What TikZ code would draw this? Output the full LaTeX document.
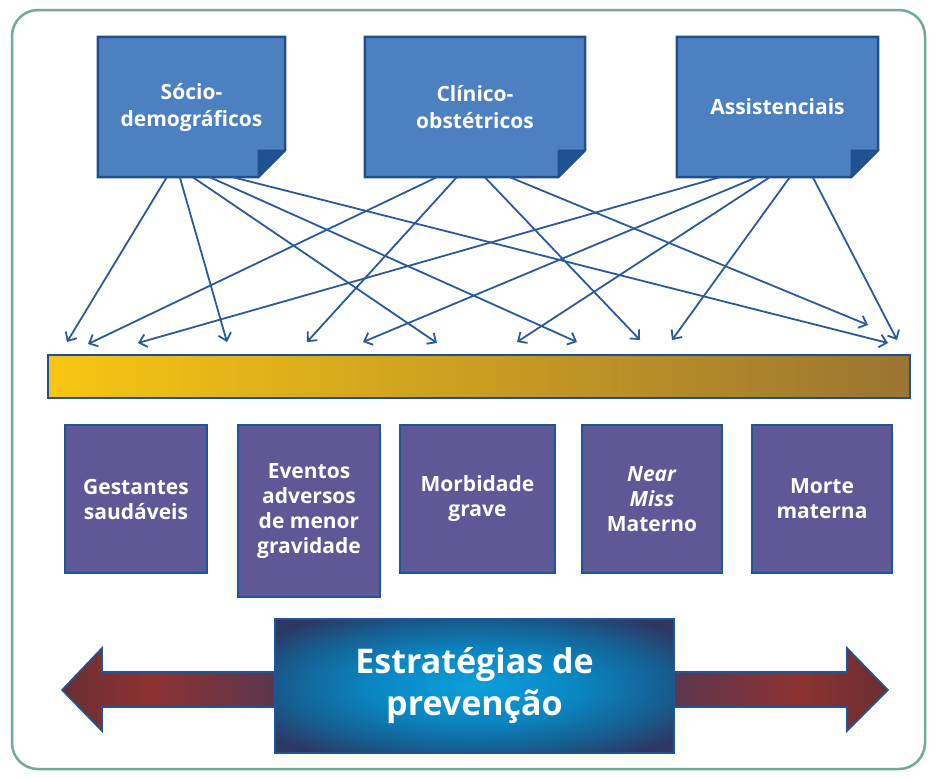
\documentclass[tikz,border=0pt]{standalone}
\usepackage{fontspec}
\setmainfont{Open Sans}
\usetikzlibrary{arrows.meta,calc,backgrounds}
\definecolor{framecol}{HTML}{6DAD97}
\definecolor{topfill}{HTML}{4C80C1}
\definecolor{topline}{HTML}{1E4F8E}
\definecolor{foldcol}{HTML}{1F5293}
\definecolor{connCol}{HTML}{2A5A9E}
\definecolor{barL}{HTML}{F8C612}
\definecolor{barR}{HTML}{9A7431}
\definecolor{botfill}{HTML}{5F5896}
\definecolor{botline}{HTML}{1E5596}
\definecolor{stratC}{HTML}{0CA0DC}
\definecolor{stratM}{HTML}{0A86C2}
\definecolor{stratN}{HTML}{165E90}
\definecolor{stratE}{HTML}{2D3763}
\definecolor{aDark}{HTML}{3A2A33}
\definecolor{aRed}{HTML}{8E3232}
\definecolor{aNavy}{HTML}{2E3A66}
\pgfdeclareradialshading{stratshade}{\pgfpoint{0bp}{0bp}}{color(0bp)=(stratC); color(13bp)=(stratM); color(24bp)=(stratN); color(32bp)=(stratE); color(50bp)=(stratE)}
\pgfdeclarehorizontalshading{larrow}{100bp}{color(0bp)=(aDark); color(45bp)=(aRed); color(100bp)=(aNavy)}
\pgfdeclarehorizontalshading{rarrow}{100bp}{color(0bp)=(aNavy); color(55bp)=(aRed); color(100bp)=(aDark)}
\begin{document}
\begin{tikzpicture}[x=1pt,y=-1pt,
  topbox/.style={rectangle, minimum height=140pt, align=center, text=white,
    font=\fontsize{21}{27}\selectfont\bfseries, inner sep=0pt},
  botbox/.style={rectangle, fill=botfill, draw=botline, line width=2pt, align=center,
    text=white, font=\fontsize{21}{25}\selectfont\bfseries, inner sep=0pt},
  conn/.style={draw=connCol, line width=1.8pt, -{Straight Barb[length=7pt,width=13pt,line width=1.8pt]}},
  bigarrow/.style={draw=botline, line width=1.6pt, line join=miter}
]
\begin{scope}[on background layer]
  \fill[white] (0,0) rectangle (936,777);
\end{scope}
\useasboundingbox (0,0) rectangle (936,777);
\draw[framecol, line width=2.5pt, rounded corners=26pt] (12,10) rectangle (925,769);

% top boxes
\node[topbox, minimum width=187pt] (s1) at (191.5,107) {Sócio-\\demográficos};
\node[topbox, minimum width=220pt] (s2) at (475,107) {Clínico-\\obstétricos};
\node[topbox, minimum width=201pt] (s3) at (777.5,107) {Assistenciais};
\begin{scope}[on background layer]
\foreach \n in {s1,s2,s3}{
  \filldraw[fill=topfill, draw=topline, line width=2.5pt, line join=miter]
    (\n.north west) -- (\n.north east) -- ([yshift=27pt]\n.south east)
    -- ([xshift=-27pt]\n.south east) -- (\n.south west) -- cycle;
  \filldraw[fill=foldcol, draw=topline, line width=1pt]
    ([xshift=-27pt,yshift=27pt]\n.south east) -- ([yshift=27pt]\n.south east)
    -- ([xshift=-27pt]\n.south east) -- cycle;
}
\end{scope}

% arrow ends
\coordinate (e1) at (67,342);
\coordinate (e2) at (88,344);
\coordinate (e3) at (138,343);
\coordinate (e4) at (227,342);
\coordinate (e5) at (307,342);
\coordinate (e6) at (363,342);
\coordinate (e7) at (437,343);
\coordinate (e8) at (517,342);
\coordinate (e9) at (577,342);
\coordinate (e10) at (640,340);
\coordinate (e11) at (672,340);
\coordinate (e12) at (868,325);
\coordinate (e13) at (888,343);
\coordinate (e14) at (897,340);

\foreach \dx/\e in {69/e1, 82/e4, 95/e7, 112/e9, 135/e13}
  \draw[conn] ([xshift=\dx pt]s1.south west) -- (\e);
\foreach \dx/\e in {72/e2, 92/e5, 120/e10, 145/e12}
  \draw[conn] ([xshift=\dx pt]s2.south west) -- (\e);
\foreach \dx/\e in {43/e3, 80/e6, 93/e8, 113/e11, 136/e14}
  \draw[conn] ([xshift=\dx pt]s3.south west) -- (\e);

% bar
\node[rectangle, minimum width=862pt, minimum height=43pt, left color=barL, right color=barR,
  draw=topline, line width=2pt, inner sep=0pt] (bar) at (479,376.5) {};

% bottom boxes
\node[botbox, minimum width=142pt, minimum height=148pt] (b1) at (136,499) {Gestantes\\saudáveis};
\node[botbox, minimum width=142pt, minimum height=172pt] (b2) at (309,511) {Eventos\\adversos\\de menor\\gravidade};
\node[botbox, minimum width=155pt, minimum height=148pt] (b3) at (477.5,499) {Morbidade\\grave};
\node[botbox, minimum width=140pt, minimum height=148pt] (b4) at (652,499) {\textit{Near}\\\textit{Miss}\\Materno};
\node[botbox, minimum width=140pt, minimum height=148pt] (b5) at (822,499) {Morte\\materna};

% big double arrow
\draw[bigarrow, shading=larrow] (280,672) -- (102,672) -- (102,648) -- (62,690)
  -- (102,731) -- (102,707) -- (280,707) -- cycle;
\draw[bigarrow, shading=rarrow] (668,672) -- (847,672) -- (847,648) -- (888,690)
  -- (847,731) -- (847,707) -- (668,707) -- cycle;

\node[rectangle, minimum width=399pt, minimum height=134pt, shading=stratshade,
  draw=botline, line width=2pt, inner sep=0pt, align=center, text=white,
  font=\fontsize{34}{42}\selectfont\bfseries] (strat) at (474.5,686) {Estratégias de\\prevenção};
\end{tikzpicture}
\end{document}
